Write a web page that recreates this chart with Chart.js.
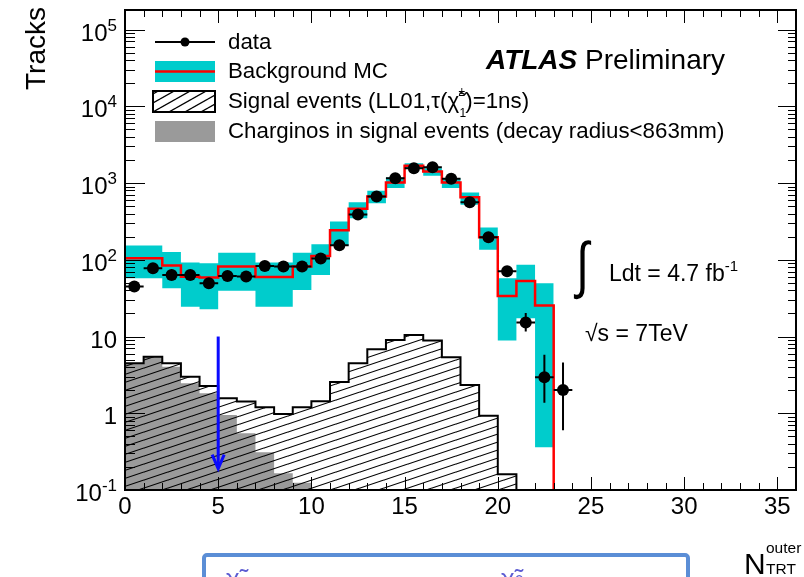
<!DOCTYPE html>
<html><head><meta charset="utf-8">
<script src="https://cdn.jsdelivr.net/npm/chart.js@4.4.1/dist/chart.umd.min.js"></script>
<style>
html,body{margin:0;padding:0;background:#fff;}
#wrap{position:relative;width:804px;height:577px;overflow:hidden;font-family:"Liberation Sans",Arial,Helvetica,sans-serif;color:#000;}
#c{position:absolute;left:0;top:0;}
.t{position:absolute;white-space:nowrap;line-height:1;}
.sup{line-height:0;}
.lg{font-size:22.3px;left:228px;}
</style></head><body>
<div id="wrap">
<canvas id="c" width="804" height="577"></canvas>
<div class="t" style="left:22px;top:90px;font-size:28px;transform-origin:0 0;transform:rotate(-90deg);">Tracks</div>
<div class="t lg" style="top:31px;">data</div>
<div class="t lg" style="top:60px;">Background MC</div>
<div class="t lg" style="top:90px;">Signal events (LL01,τ(<span style="position:relative;display:inline-block;">χ̃<span style="position:absolute;left:11px;top:-4px;font-size:12px;line-height:1;">±</span><span style="position:absolute;left:12px;top:17px;font-size:12px;line-height:1;">1</span></span><span style="margin-left:6px;">)=1ns)</span></div>
<div class="t lg" style="top:120px;">Charginos in signal events (decay radius&lt;863mm)</div>
<div class="t" style="left:486px;top:46px;font-size:28px;"><b><i>ATLAS</i></b> Preliminary</div>
<div class="t" style="left:576px;top:234px;font-size:62px;transform-origin:0 0;transform:scaleX(0.75);">∫</div>
<div class="t" style="left:609px;top:262px;font-size:23px;">Ldt = 4.7 fb<span class="sup" style="font-size:15px;vertical-align:10px;">-1</span></div>
<div class="t" style="left:585px;top:322px;font-size:23px;">√s = 7TeV</div>
<div class="t" style="left:744px;top:549px;font-size:30px;">N<span style="position:absolute;left:22px;top:-9px;font-size:15.5px;line-height:1;">outer</span><span style="position:absolute;left:22px;top:12px;font-size:15.5px;line-height:1;">TRT</span></div>
<div style="position:absolute;left:202px;top:553px;width:480px;height:40px;border:4px solid #5b8ed6;border-radius:5px;background:#fff;overflow:hidden;">
<span style="position:absolute;left:20px;top:8px;font-size:26px;color:#3535c8;line-height:1;opacity:.8;">χ̃<span style="font-size:16px;">±</span></span>
<span style="position:absolute;left:295px;top:8px;font-size:26px;color:#3535c8;line-height:1;opacity:.8;">χ̃<span style="font-size:16px;">0</span></span>
</div>
</div>
<script>
// ---------------- data ----------------
const Y_MIN = 0.1, Y_MAX = 1.8e5, X_MIN = 0, X_MAX = 36;
// data: bins N = 0..23 (bin spans [N, N+1))
const dataBins    = [0,1,2,3,4,5,6,7,8,9,10,11,12,13,14,15,16,17,18,19,20,21,22,23];
const dataY       = [44.8,77.7,63.5,63.5,49.5,61.7,60.4,83.3,81.5,81.5,104,155,388,666,1158,1564,1612,1135,564,197,71,15.2,2.95,2.01];
const dataErrLow  = [38,69,56,56,43,54,53,74,72,72,94,143,368,640,1124,1524,1572,1101,540,183,63,11.6,1.37,0.6];
const dataErrHigh = [52,87,71,71,57,70,68,93,91,91,114,167,408,692,1192,1604,1652,1169,588,211,79,20.2,5.8,4.6];
// background MC: bins 0..22
const mcY        = [105,105,84,60,58.6,81.5,81.5,59.8,59.8,81.5,112,242,461,666,1014,1675,1413,1014,655,197,33.8,53,25.3];
const mcBandHigh = [153,153,126,92,90,124,124,92,92,124,160,315,564,791,1180,1816,1564,1158,752,263,57.5,86,49.5];
const mcBandLow  = [57.5,57.5,42.6,24.5,22.7,39.6,39.6,24.5,24.5,40.5,63.5,153,349,547,859,1564,1242,859,520,135,8.85,17.3,0.36];
// signal events: bins 0..20
const signalY    = [4.49,5.47,4.49,3.0,2.27,1.57,1.42,1.20,0.98,1.20,1.43,2.56,4.49,6.83,9.03,10.5,8.85,5.37,2.34,0.93,0.16];
// charginos with decay radius < 863mm: bins 0..9
const charginoY  = [4.49,5.47,4.05,2.46,1.82,0.95,0.55,0.31,0.165,0.124];
// axis tick labels
const xTickStep  = 5;
const yTickValues = [0.1,1,10,100,1000,10000,100000];
const yTickBase   = ['10','1','10','10','10','10','10'];
const yTickExp    = ['-1','','','2','3','4','5'];
// cut arrow: [x, from, to]
const cutArrow = [5, 10, 0.19];

// ---------------- helpers ----------------
function histPoints(vals, drop){
  const p = vals.map((v,i)=>({x:i, y:v}));
  p.push({x:vals.length, y:vals[vals.length-1]});
  if (drop) p.push({x:vals.length, y:Y_MIN});
  return p;
}
function makeHatch(W,H,lw){
  const c=document.createElement('canvas'); c.width=W; c.height=H;
  const g=c.getContext('2d');
  g.strokeStyle='#000'; g.lineWidth=lw;
  for (const dx of [-W,0,W]) for (const dy of [-H,0,H]) {
    g.beginPath(); g.moveTo(dx, H+dy); g.lineTo(W+dx, dy); g.stroke();
  }
  return g.createPattern(c,'repeat');
}
const hatch = makeHatch(24,8,1.1);
const hatchLegend = makeHatch(16,9,1.3);

Chart.defaults.font.family = '"Liberation Sans", Arial, Helvetica, sans-serif';
Chart.defaults.color = '#000';

let overlayDone = false;
const decor = {
  id:'decor',
  afterDatasetsDraw(chart){
    const {ctx, scales:{x,y}} = chart;
    ctx.save();
    ctx.strokeStyle='#000'; ctx.lineWidth=2;
    dataBins.forEach((b,i)=>{
      const py=y.getPixelForValue(dataY[i]);
      const cx=x.getPixelForValue(b+0.5);
      ctx.beginPath();
      ctx.moveTo(x.getPixelForValue(b), py); ctx.lineTo(x.getPixelForValue(b+1), py);
      ctx.moveTo(cx, y.getPixelForValue(dataErrHigh[i])); ctx.lineTo(cx, y.getPixelForValue(dataErrLow[i]));
      ctx.stroke();
    });
    // arrow
    const ax=x.getPixelForValue(cutArrow[0]), ay0=y.getPixelForValue(cutArrow[1]), ay1=y.getPixelForValue(cutArrow[2]);
    ctx.strokeStyle='#0a0aff'; ctx.lineWidth=3; ctx.lineCap='butt';
    ctx.beginPath(); ctx.moveTo(ax,ay0); ctx.lineTo(ax,ay1-1); ctx.stroke();
    ctx.beginPath(); ctx.moveTo(ax-6,ay1-14); ctx.lineTo(ax,ay1); ctx.lineTo(ax+6,ay1-14); ctx.stroke();
    ctx.restore();
  },
  afterDraw(chart){
    const {ctx, chartArea:a, scales:{x,y}} = chart;
    ctx.save();
    ctx.strokeStyle='#000'; ctx.lineWidth=1;
    // x ticks (bottom & top)
    ctx.beginPath();
    for (let v=X_MIN+1; v<X_MAX; v++){
      const px=Math.round(x.getPixelForValue(v))+0.5;
      const len = (v % xTickStep === 0) ? 13 : 7;
      ctx.moveTo(px,a.bottom); ctx.lineTo(px,a.bottom-len);
      ctx.moveTo(px,a.top); ctx.lineTo(px,a.top+len);
    }
    // y ticks (left & right)
    for (let d=-1; d<=5; d++){
      for (let k=1;k<=9;k++){
        const v=k*Math.pow(10,d);
        if (v<=Y_MIN*1.0001 && k!==1) continue;
        if (v>=Y_MAX) continue;
        const py=Math.round(y.getPixelForValue(v))+0.5;
        if (py>a.bottom-1) continue;
        const L = k===1 ? 20 : 10, R = k===1 ? 18 : 8;
        ctx.moveTo(a.left,py); ctx.lineTo(a.left+L,py);
        ctx.moveTo(a.right,py); ctx.lineTo(a.right-R,py);
      }
    }
    ctx.stroke();
    // frame
    ctx.lineWidth=2;
    ctx.strokeRect(a.left, a.top, a.right-a.left, a.bottom-a.top);
    // legend symbols
    ctx.lineWidth=2; ctx.strokeStyle='#000';
    ctx.beginPath(); ctx.moveTo(155,42); ctx.lineTo(215,42); ctx.stroke();
    ctx.fillStyle='#000'; ctx.beginPath(); ctx.arc(185,42,4.5,0,Math.PI*2); ctx.fill();
    ctx.fillStyle='#00cccc'; ctx.fillRect(155,61,60,21);
    ctx.strokeStyle='#ff0000'; ctx.lineWidth=2.5; ctx.beginPath(); ctx.moveTo(155,71.5); ctx.lineTo(215,71.5); ctx.stroke();
    ctx.fillStyle=hatchLegend; ctx.fillRect(153,91,62,21);
    ctx.strokeStyle='#000'; ctx.lineWidth=2; ctx.strokeRect(153,91,62,21);
    ctx.fillStyle='#9a9a9a'; ctx.fillRect(155,121,60,21);
    ctx.restore();
    if (!overlayDone){
      overlayDone = true;
      const wrap=document.getElementById('wrap');
      yTickValues.forEach((v,i)=>{
        const py=y.getPixelForValue(v);
        const d=document.createElement('div');
        d.className='t';
        d.style.cssText='right:'+(804-117)+'px;top:'+(py-9)+'px;font-size:24px;text-align:right;';
        d.innerHTML = yTickBase[i] + (yTickExp[i] ? '<span class="sup" style="font-size:17px;vertical-align:10px;">'+yTickExp[i]+'</span>' : '');
        wrap.appendChild(d);
      });
    }
  }
};

new Chart(document.getElementById('c'), {
  type:'line',
  data:{datasets:[
    {label:'bandHigh', data:histPoints(mcBandHigh,false), stepped:true, fill:'+1', backgroundColor:'#00cccc', borderColor:'rgba(0,0,0,0)', borderWidth:1, pointRadius:0, order:10},
    {label:'bandLow', data:histPoints(mcBandLow,false), stepped:true, fill:false, borderColor:'rgba(0,0,0,0)', borderWidth:1, pointRadius:0, order:11},
    {label:'charginos', data:histPoints(charginoY,true), stepped:true, fill:'start', backgroundColor:'#9a9a9a', borderColor:'rgba(0,0,0,0)', borderWidth:1, pointRadius:0, order:8},
    {label:'signal', data:histPoints(signalY,true), stepped:true, fill:'start', backgroundColor:hatch, borderColor:'#000', borderWidth:2, pointRadius:0, order:7},
    {label:'mc', data:histPoints(mcY,true), stepped:true, fill:false, borderColor:'#ff0000', borderWidth:2.5, pointRadius:0, order:5},
    {label:'data', data:dataBins.map((b,i)=>({x:b+0.5, y:dataY[i]})), showLine:false, pointRadius:6, pointBackgroundColor:'#000', pointBorderColor:'#000', pointBorderWidth:0, order:1}
  ]},
  options:{
    animation:false, responsive:false, events:[],
    layout:{padding:{top:10,right:8,left:0,bottom:0}},
    plugins:{legend:{display:false}, tooltip:{enabled:false}},
    scales:{
      x:{type:'linear', min:X_MIN, max:X_MAX,
         grid:{display:false, drawTicks:false}, border:{display:false},
         ticks:{stepSize:xTickStep, includeBounds:false, autoSkip:false, maxRotation:0, padding:3, font:{size:24}, color:'#000'},
         afterFit(s){ s.height = 87; }},
      y:{type:'logarithmic', min:Y_MIN, max:Y_MAX,
         grid:{display:false, drawTicks:false}, border:{display:false},
         ticks:{display:false},
         afterFit(s){ s.width = 125; }}
    }
  },
  plugins:[decor]
});
</script>
</body></html>
